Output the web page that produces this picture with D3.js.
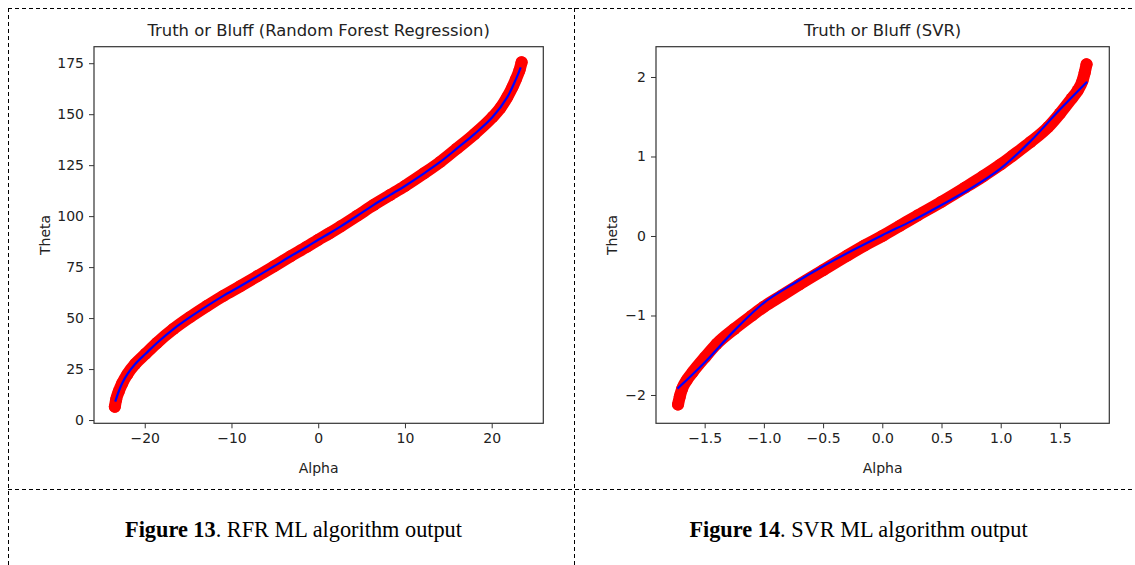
<!DOCTYPE html>
<head>
  <meta charset="utf-8">
  <title>Truth or Bluff</title>
  <style>
    body {
      margin: 0;
      padding: 0;
      background-color: #fff;
    }
    .axis text {
      font-family: 'DejaVu Sans', sans-serif;
      font-size: 14px;
      fill: #222;
    }
    .axis path, .axis line {
      stroke: #333;
    }
    .title, .label {
      font-family: 'DejaVu Sans', sans-serif;
      fill: #222;
    }
    .caption {
      font-family: 'Liberation Serif', 'Times New Roman', serif;
      font-size: 22.3px;
      fill: #000;
    }
    .grid-line {
      stroke: #000;
      stroke-width: 1;
      stroke-dasharray: 4,3;
    }
  </style>
</head>
<body>
  <div id="vis"></div>
  <script src="https://cdn.jsdelivr.net/npm/d3@7"></script>
  <script>
    // Random forest: scattered data [alpha, theta]
    var rfrData = [
      [-23.45, 6.5], [-23.3, 10.0], [-23.0, 14.0], [-22.6, 18.0], [-22.0, 22.5],
      [-21.1, 27.5], [-19.9, 32.5], [-18.6, 37.8], [-16.7, 44.6], [-14.7, 50.7],
      [-12.8, 56.0], [-10.9, 61.0], [-9.0, 65.6], [-7.0, 70.6], [-5.1, 75.4],
      [-3.2, 80.3], [-1.3, 85.0], [0.0, 88.4], [1.3, 91.6], [2.6, 95.0],
      [4.5, 100.2], [6.4, 105.5], [8.3, 110.4], [10.0, 114.8], [12.2, 121.0],
      [14.1, 126.7], [16.0, 133.2], [18.0, 140.2], [20.1, 148.6], [21.0, 153.0],
      [21.8, 158.4], [22.4, 163.3], [22.8, 167.2], [23.2, 171.5], [23.45, 175.5]
    ];
    // Random forest prediction line
    var rfrPred = [
      [-23.4, 9.0], [-23.0, 14.0], [-22.6, 18.0], [-22.0, 22.5], [-21.1, 27.5],
      [-19.9, 32.5], [-18.6, 37.8], [-16.7, 44.6], [-14.7, 50.7], [-12.8, 56.0],
      [-10.9, 61.0], [-9.0, 65.6], [-7.0, 70.6], [-5.1, 75.4], [-3.2, 80.3],
      [-1.3, 85.0], [0.0, 88.4], [1.3, 91.6], [2.6, 95.0], [4.5, 100.2], [6.4, 105.5],
      [8.3, 110.4], [10.0, 114.8], [12.2, 121.0], [14.1, 126.7], [16.0, 133.2],
      [18.0, 140.2], [20.1, 148.6], [21.8, 158.4], [22.8, 167.2], [23.35, 173.0]
    ];
    // SVR: scaled data [alpha, theta]
    var svrData = [
      [-1.725, -2.12], [-1.71, -2.02], [-1.69, -1.92], [-1.65, -1.81], [-1.60, -1.71],
      [-1.50, -1.53], [-1.40, -1.36], [-1.25, -1.17], [-1.10, -1.00], [-1.00, -0.89],
      [-0.85, -0.75], [-0.70, -0.61], [-0.50, -0.43], [-0.30, -0.25], [-0.15, -0.12],
      [0.00, 0.00], [0.15, 0.13], [0.30, 0.26], [0.50, 0.43], [0.70, 0.61],
      [0.85, 0.75], [1.00, 0.90], [1.10, 1.01], [1.25, 1.18], [1.40, 1.37],
      [1.50, 1.54], [1.60, 1.73], [1.65, 1.83], [1.69, 1.95], [1.71, 2.06], [1.725, 2.16]
    ];
    // SVR prediction line
    var svrPred = [
      [-1.73, -1.92], [-1.50, -1.59], [-1.25, -1.19], [-1.00, -0.84], [-0.75, -0.60],
      [-0.50, -0.38], [-0.25, -0.18], [0.00, 0.01], [0.25, 0.19], [0.50, 0.39],
      [0.75, 0.60], [1.00, 0.85], [1.25, 1.19], [1.50, 1.59], [1.73, 1.94]
    ];

    var rfrXTicks = [-20, -10, 0, 10, 20],
        rfrYTicks = [0, 25, 50, 75, 100, 125, 150, 175],
        svrXTicks = [-1.5, -1.0, -0.5, 0.0, 0.5, 1.0, 1.5],
        svrYTicks = [-2, -1, 0, 1, 2];

    var captions = [
      {bold: 'Figure 13', rest: '. RFR ML algorithm output'},
      {bold: 'Figure 14', rest: '. SVR ML algorithm output'}
    ];

    var width = 1135,
        height = 565;

    var svg = d3.select('#vis').append('svg')
      .attr('width', width)
      .attr('height', height);

    function drawPanel(p) {
      var x = d3.scaleLinear().domain(p.xDomain).range([p.left, p.right]),
          y = d3.scaleLinear().domain(p.yDomain).range([p.bottom, p.top]);

      var g = svg.append('g');

      var line = d3.line()
        .x(function(d) { return x(d[0]); })
        .y(function(d) { return y(d[1]); })
        .curve(d3.curveMonotoneX);

      // red scatter band
      g.append('path')
        .datum(p.data)
        .attr('d', line)
        .attr('fill', 'none')
        .attr('stroke', '#ff0000')
        .attr('stroke-width', 12)
        .attr('stroke-linecap', 'round')
        .attr('stroke-linejoin', 'round');

      g.selectAll('circle')
        .data(p.data)
        .enter().append('circle')
          .attr('cx', function(d) { return x(d[0]); })
          .attr('cy', function(d) { return y(d[1]); })
          .attr('r', 6)
          .attr('fill', '#ff0000');

      // prediction
      g.append('path')
        .datum(p.pred)
        .attr('d', line.curve(d3.curveCatmullRom))
        .attr('fill', 'none')
        .attr('stroke', '#0000ff')
        .attr('stroke-width', 2.2);

      g.append('g')
        .attr('class', 'axis')
        .attr('transform', 'translate(0,' + p.bottom + ')')
        .call(d3.axisBottom(x).tickValues(p.xTicks).tickFormat(d3.format(p.xFormat))
          .tickSizeInner(5).tickSizeOuter(0).tickPadding(5))
        .call(function(a) { a.select('.domain').remove(); });

      g.append('g')
        .attr('class', 'axis')
        .attr('transform', 'translate(' + p.left + ',0)')
        .call(d3.axisLeft(y).tickValues(p.yTicks).tickFormat(d3.format(p.yFormat))
          .tickSizeInner(5).tickSizeOuter(0).tickPadding(5))
        .call(function(a) { a.select('.domain').remove(); });

      g.append('rect')
        .attr('x', p.left)
        .attr('y', p.top)
        .attr('width', p.right - p.left)
        .attr('height', p.bottom - p.top)
        .attr('fill', 'none')
        .attr('stroke', '#333')
        .attr('stroke-width', 1.2);

      var cx = (p.left + p.right) / 2,
          cy = (p.top + p.bottom) / 2;

      g.append('text')
        .attr('class', 'title')
        .attr('x', cx)
        .attr('y', 36)
        .attr('text-anchor', 'middle')
        .style('font-size', '16.4px')
        .text(p.title);

      g.append('text')
        .attr('class', 'label')
        .attr('x', cx)
        .attr('y', 473)
        .attr('text-anchor', 'middle')
        .style('font-size', '14px')
        .text('Alpha');

      g.append('text')
        .attr('class', 'label')
        .attr('transform', 'translate(' + p.yLabelX + ',' + cy + ') rotate(-90)')
        .attr('text-anchor', 'middle')
        .style('font-size', '14px')
        .text('Theta');
    }

    drawPanel({
      title: 'Truth or Bluff (Random Forest Regression)',
      data: rfrData, pred: rfrPred,
      xDomain: [-25.85, 25.95], yDomain: [-1.6, 183.1],
      left: 94, right: 543.3, top: 46.7, bottom: 423.3,
      xTicks: rfrXTicks, yTicks: rfrYTicks, xFormat: 'd', yFormat: 'd',
      yLabelX: 50
    });

    drawPanel({
      title: 'Truth or Bluff (SVR)',
      data: svrData, pred: svrPred,
      xDomain: [-1.911, 1.917], yDomain: [-2.356, 2.381],
      left: 656, right: 1109.3, top: 46.7, bottom: 423.3,
      xTicks: svrXTicks, yTicks: svrYTicks, xFormat: '.1f', yFormat: 'd',
      yLabelX: 617
    });

    // dashed table borders
    var hLines = [8.5, 489.5],
        vLines = [8.5, 574.5];
    svg.selectAll('line.h')
      .data(hLines)
      .enter().append('line')
        .attr('class', 'grid-line h')
        .attr('x1', 8).attr('x2', width)
        .attr('y1', function(d) { return d; })
        .attr('y2', function(d) { return d; });
    svg.selectAll('line.v')
      .data(vLines)
      .enter().append('line')
        .attr('class', 'grid-line v')
        .attr('y1', 8).attr('y2', height)
        .attr('x1', function(d) { return d; })
        .attr('x2', function(d) { return d; });

    // captions
    var capX = [293.5, 858.5];
    captions.forEach(function(c, i) {
      var t = svg.append('text')
        .attr('class', 'caption')
        .attr('x', capX[i])
        .attr('y', 537)
        .attr('text-anchor', 'middle');
      t.append('tspan').style('font-weight', 'bold').text(c.bold);
      t.append('tspan').text(c.rest);
    });
  </script>
</body>
